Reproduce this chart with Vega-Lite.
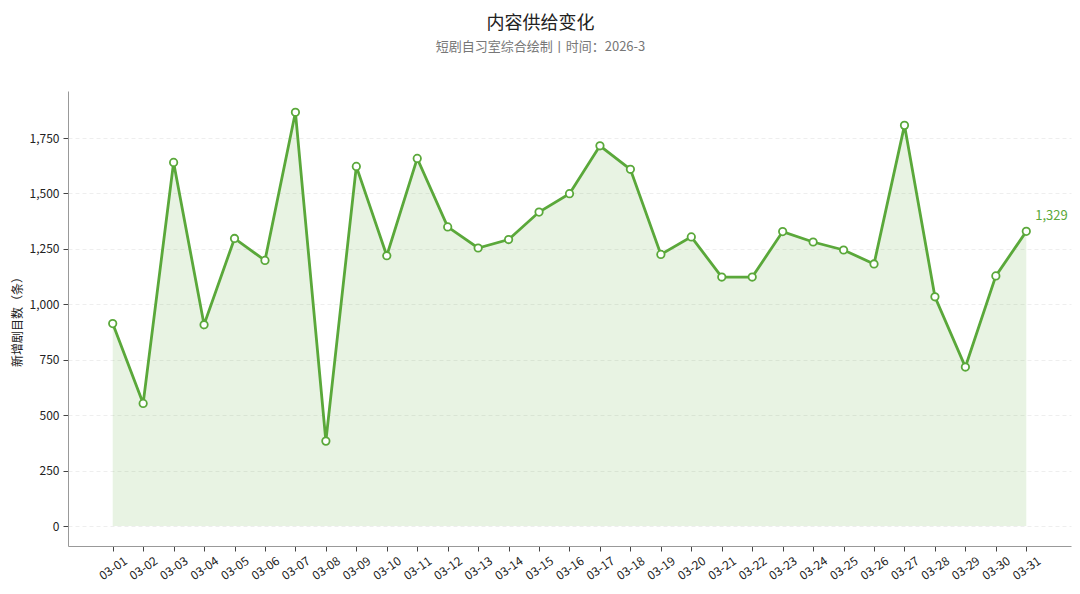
{
  "$schema": "https://vega.github.io/schema/vega-lite/v6.json",
  "width": 1003,
  "height": 455,
  "autosize": {"type": "none"},
  "padding": {"left": 68, "top": 91, "right": 9, "bottom": 48},
  "background": "white",
  "config": {
    "font": "Noto Sans CJK SC",
    "view": {"stroke": null}
  },
  "title": {
    "text": "内容供给变化",
    "subtitle": "短剧自习室综合绘制丨时间：2026-3",
    "anchor": "middle",
    "frame": "group",
    "dx": -29,
    "offset": 37,
    "fontSize": 18,
    "fontWeight": "normal",
    "color": "#222222",
    "subtitleFontSize": 13,
    "subtitleColor": "#777777",
    "subtitlePadding": 8
  },
  "data": {
    "values": [
      {"day": 1, "date": "03-01", "value": 913},
      {"day": 2, "date": "03-02", "value": 553},
      {"day": 3, "date": "03-03", "value": 1640},
      {"day": 4, "date": "03-04", "value": 908},
      {"day": 5, "date": "03-05", "value": 1297},
      {"day": 6, "date": "03-06", "value": 1198},
      {"day": 7, "date": "03-07", "value": 1866},
      {"day": 8, "date": "03-08", "value": 383},
      {"day": 9, "date": "03-09", "value": 1622},
      {"day": 10, "date": "03-10", "value": 1219},
      {"day": 11, "date": "03-11", "value": 1658},
      {"day": 12, "date": "03-12", "value": 1349},
      {"day": 13, "date": "03-13", "value": 1254},
      {"day": 14, "date": "03-14", "value": 1292},
      {"day": 15, "date": "03-15", "value": 1416},
      {"day": 16, "date": "03-16", "value": 1499},
      {"day": 17, "date": "03-17", "value": 1715},
      {"day": 18, "date": "03-18", "value": 1609},
      {"day": 19, "date": "03-19", "value": 1225},
      {"day": 20, "date": "03-20", "value": 1304},
      {"day": 21, "date": "03-21", "value": 1123},
      {"day": 22, "date": "03-22", "value": 1123},
      {"day": 23, "date": "03-23", "value": 1328},
      {"day": 24, "date": "03-24", "value": 1281},
      {"day": 25, "date": "03-25", "value": 1245},
      {"day": 26, "date": "03-26", "value": 1182},
      {"day": 27, "date": "03-27", "value": 1807},
      {"day": 28, "date": "03-28", "value": 1034},
      {"day": 29, "date": "03-29", "value": 717},
      {"day": 30, "date": "03-30", "value": 1128},
      {"day": 31, "date": "03-31", "value": 1329}
    ]
  },
  "encoding": {
    "x": {
      "field": "day",
      "type": "quantitative",
      "scale": {"domain": [-0.468, 32.468], "nice": false, "zero": false},
      "axis": {
        "title": null,
        "values": [1,2,3,4,5,6,7,8,9,10,11,12,13,14,15,16,17,18,19,20,21,22,23,24,25,26,27,28,29,30,31],
        "labelExpr": "'03-' + (datum.value < 10 ? '0' : '') + datum.value",
        "labelAngle": -35,
        "labelAlign": "center",
        "labelBaseline": "middle",
        "labelFontSize": 12,
        "labelColor": "#222222",
        "labelOverlap": false,
        "labelFlush": false,
        "domainColor": "#999999",
        "tickColor": "#444444",
        "tickSize": 5,
        "labelPadding": 17,
        "grid": false
      }
    },
    "y": {
      "field": "value",
      "type": "quantitative",
      "scale": {"domain": [-90, 1962], "nice": false, "zero": false},
      "axis": {
        "title": "新增剧目数（条）",
        "titleFontSize": 12,
        "titleFontWeight": "normal",
        "titleColor": "#222222",
        "titlePadding": 5,
        "values": [0, 250, 500, 750, 1000, 1250, 1500, 1750],
        "format": ",d",
        "labelFontSize": 12,
        "labelColor": "#222222",
        "labelFlush": false,
        "domainColor": "#999999",
        "tickColor": "#444444",
        "tickSize": 5,
        "labelPadding": 4,
        "grid": true,
        "gridColor": "#eeeeee",
        "gridDash": [4, 3],
        "gridWidth": 1
      }
    }
  },
  "layer": [
    {
      "mark": {"type": "area", "color": "#5aa83a", "opacity": 0.14},
      "encoding": {"y2": {"datum": 0}}
    },
    {
      "mark": {"type": "line", "color": "#5aa83a", "strokeWidth": 2.8}
    },
    {
      "mark": {"type": "point", "filled": true, "fill": "white", "stroke": "#5aa83a", "strokeWidth": 1.8, "size": 55, "opacity": 1}
    },
    {
      "transform": [{"filter": "datum.day == 31"}],
      "mark": {"type": "text", "color": "#5aa83a", "fontSize": 13, "align": "left", "dx": 9, "dy": -15},
      "encoding": {"text": {"field": "value", "type": "quantitative", "format": ",d"}}
    }
  ]
}
